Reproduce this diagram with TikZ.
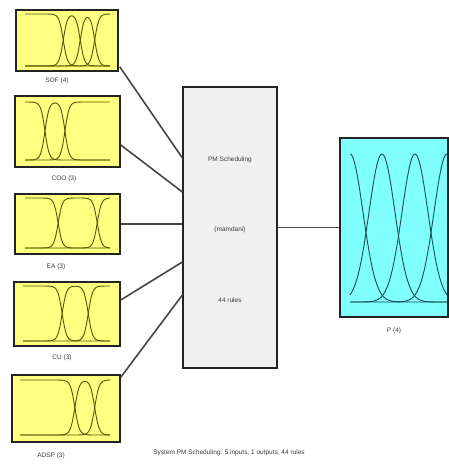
\documentclass[tikz,border=0pt]{standalone}
\usepackage{fontspec}
\setmainfont{Liberation Sans}
\usetikzlibrary{calc}
\definecolor{yel}{RGB}{255,255,128}
\definecolor{cyn}{RGB}{128,255,255}
\definecolor{midfill}{RGB}{240,240,240}
\definecolor{frame}{RGB}{35,35,35}
\definecolor{olive}{RGB}{85,85,0}
\definecolor{tealmf}{RGB}{20,80,80}
\definecolor{wire}{RGB}{70,70,70}
\definecolor{txt}{RGB}{60,60,60}
\begin{document}
\begin{tikzpicture}[x=1pt,y=-1pt,
  declare function={
    sg(\t)=1/(1+exp(min(max(\t,-9),9)));
    ps(\x,\l,\r)=sg(-40*(\x-\l))*sg(40*(\x-\r));
    gs(\x,\c)=exp(-0.5*(min(abs((\x-\c)/13),4))^2);
  },
  inbox/.style={draw=frame, line width=1.5pt, fill=yel, inner sep=0pt},
  midbox/.style={draw=frame, line width=1.2pt, fill=midfill, inner sep=0pt},
  outbox/.style={draw=frame, line width=1.5pt, fill=cyn, inner sep=0pt},
  mfline/.style={draw=olive, line width=0.9pt},
  outmf/.style={draw=tealmf, line width=0.9pt},
  wireline/.style={draw=wire, line width=1.6pt},
  lbl/.style={text=txt, font=\fontsize{6.5}{7}\selectfont, inner sep=0pt},
]
\useasboundingbox[fill=white] (0,0) rectangle (449,464);

% boxes
\node[inbox, minimum width=102pt, minimum height=61pt] (sdf) at (67,40.5) {};
\node[inbox, minimum width=105pt, minimum height=71pt] (coo) at (67.5,131.5) {};
\node[inbox, minimum width=105pt, minimum height=60pt] (ea) at (67.5,224) {};
\node[inbox, minimum width=106pt, minimum height=64pt] (cu) at (67,314) {};
\node[inbox, minimum width=108pt, minimum height=67pt] (adsp) at (66,408.5) {};
\node[midbox, minimum width=94pt, minimum height=281pt] (mid) at (230,227.5) {};
\node[outbox, minimum width=108pt, minimum height=179pt] (p) at (394,227.5) {};

% membership functions
\begin{scope}[shift={(25,66)}, x=85pt, y=52pt]
  \foreach \l/\r in {-1/0.45, 0.45/0.65, 0.65/0.82, 0.82/2}
    \draw[mfline] plot[domain=0:1, samples=121, smooth] (\x,{ps(\x,\l,\r)});
\end{scope}
\begin{scope}[shift={(25,160)}, x=85pt, y=58pt]
  \foreach \l/\r in {-1/0.235, 0.235/0.47, 0.47/2}
    \draw[mfline] plot[domain=0:1, samples=121, smooth] (\x,{ps(\x,\l,\r)});
\end{scope}
\begin{scope}[shift={(25,248)}, x=85pt, y=50pt]
  \foreach \l/\r in {-1/0.39, 0.39/0.85, 0.85/2}
    \draw[mfline] plot[domain=0:1, samples=121, smooth] (\x,{ps(\x,\l,\r)});
\end{scope}
\begin{scope}[shift={(23,341)}, x=87pt, y=55pt]
  \foreach \l/\r in {-1/0.45, 0.45/0.75, 0.75/2}
    \draw[mfline] plot[domain=0:1, samples=121, smooth] (\x,{ps(\x,\l,\r)});
\end{scope}
\begin{scope}[shift={(20,435)}, x=90pt, y=55pt]
  \foreach \l/\r in {-1/0.61, 0.61/0.83, 0.83/2}
    \draw[mfline] plot[domain=0:1, samples=121, smooth] (\x,{ps(\x,\l,\r)});
\end{scope}
\begin{scope}[shift={(350,302)}, x=1pt, y=148pt]
  \foreach \c in {0,32,65,97}
    \draw[outmf] plot[domain=0:97, samples=121, smooth] (\x,{gs(\x,\c)});
\end{scope}

% labels
\node[lbl] (sdfl) at (57,81) {SOF (4)};
\node[lbl] (cool) at (64,179) {COO (3)};
\node[lbl] (eal) at (56,267) {EA (3)};
\node[lbl] (cul) at (62,358) {CU (3)};
\node[lbl] (adspl) at (51,456) {ADSP (3)};
\node[lbl] (pl) at (394,331) {P (4)};
\node[lbl] (t1) at (230,160) {PM Scheduling};
\node[lbl] (t2) at (230,230) {(mamdani)};
\node[lbl] (t3) at (230,300) {44 rules};
\node[lbl] (cap) at (229,453) {System PM Scheduling: 5 inputs, 1 outputs, 44 rules};

% connectors
\draw[wireline] ($(sdf.south east)+(1,-5)$) -- ($(mid.west)+(0,-69.5)$);
\draw[wireline] ($(coo.east)+(0,13.5)$) -- ($(mid.west)+(0,-35.5)$);
\draw[wireline] (ea.east) -- (ea.east -| mid.west);
\draw[wireline] ($(cu.east)+(0,-14)$) -- ($(mid.west)+(0,34.5)$);
\draw[wireline] ($(adsp.north east)+(0,3)$) -- ($(mid.west)+(0,67.5)$);
\draw[wireline] (mid.east) -- (p.west);
\end{tikzpicture}
\end{document}
